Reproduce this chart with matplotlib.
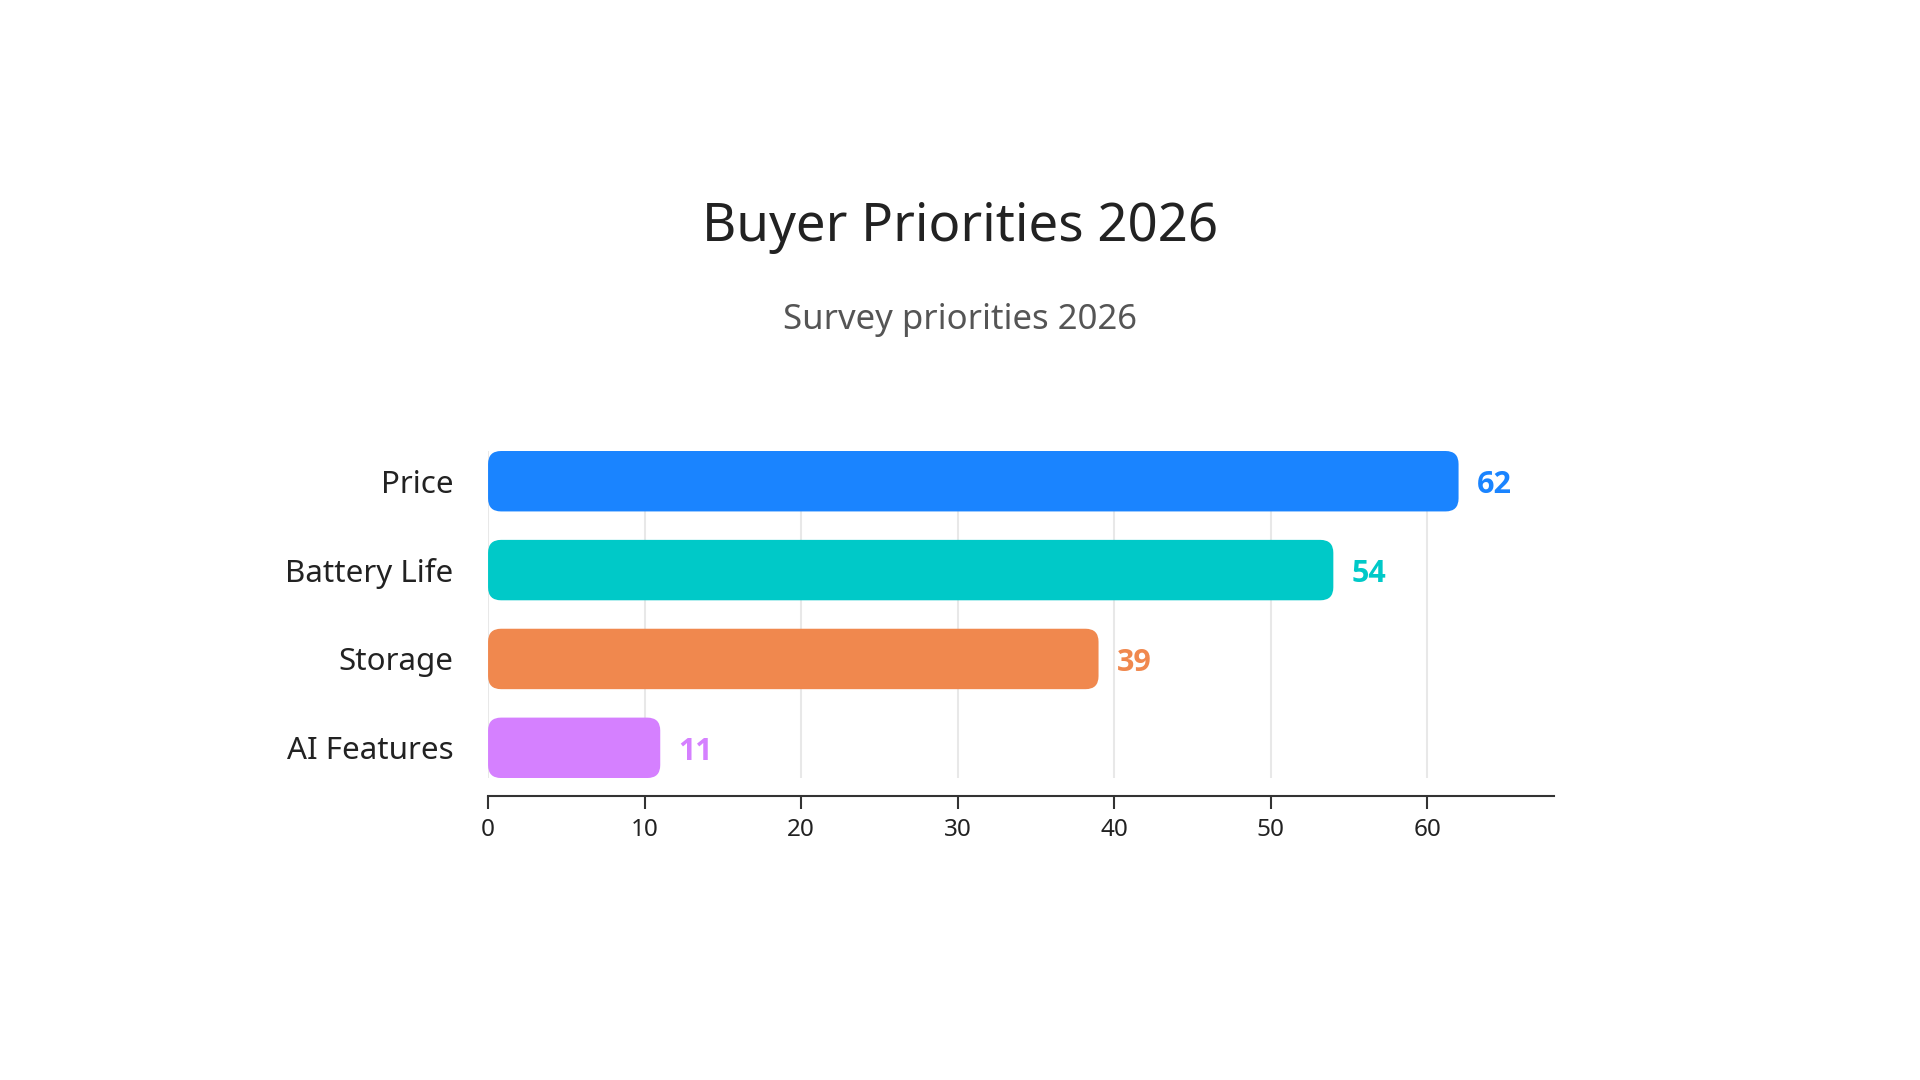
import matplotlib
matplotlib.use("Agg")
import matplotlib.pyplot as plt
from matplotlib.patches import FancyBboxPatch

plt.rcParams['font.family'] = ['Noto Sans', 'DejaVu Sans']

categories = ["Price", "Battery Life", "Storage", "AI Features"]
values = [62, 54, 39, 11]
colors = ["#1a84ff", "#00c9c8", "#f0884e", "#d580ff"]
ticks = [0, 10, 20, 30, 40, 50, 60]

fig = plt.figure(figsize=(19.2, 10.8), dpi=100)
ax = fig.add_axes([0.2542, 0.2796, 0.5552, 0.3028])

ypos = list(range(len(categories)))
bars = ax.barh(ypos, values, height=0.68, color=colors)
ax.set_xlim(0, 68.1)
ax.set_ylim(3.34, -0.34)

# swap the plain bars for rounded ones
px_x = ax.bbox.width / 68.1
px_y = ax.bbox.height / 3.68
r = 13 / px_x
for b, c in zip(bars, colors):
    b.set_visible(False)
    x0, y0 = b.get_x(), b.get_y()
    w, h = b.get_width(), b.get_height()
    p = FancyBboxPatch((x0, y0), w, h,
                       boxstyle=f"round,pad=0,rounding_size={r}",
                       mutation_aspect=px_x / px_y,
                       fc=c, ec="none", zorder=3)
    ax.add_patch(p)

for y, v, c in zip(ypos, values, colors):
    ax.annotate(str(v), (v, y), xytext=(13, -3), textcoords="offset points",
                va="center", ha="left", fontsize=22, fontweight="bold", color=c,
                family=["Open Sans", "DejaVu Sans"])

ax.set_xticks(ticks)
ax.set_yticks(ypos)
ax.set_yticklabels(categories, fontsize=22.5, color="#222222")
ax.tick_params(axis="y", length=0, pad=25)
ax.tick_params(axis="x", length=9, width=1.5, color="#333333", labelsize=17.5,
               labelcolor="#222222", pad=7)
ax.grid(axis="x", color="#e8e8e8", linewidth=1.5, zorder=0)
ax.set_axisbelow(True)
for s in ["top", "right", "left"]:
    ax.spines[s].set_visible(False)
ax.spines["bottom"].set_position(("outward", 13))
ax.spines["bottom"].set_color("#333333")
ax.spines["bottom"].set_linewidth(1.5)

fig.text(0.5, 1 - 227 / 1080, "Buyer Priorities 2026", ha="center", va="center",
         fontsize=38, color="#222222")
fig.text(0.5, 1 - 320 / 1080, "Survey priorities 2026", ha="center", va="center",
         fontsize=25, color="#555555")

fig.savefig("out.png", dpi=100, facecolor="white")
